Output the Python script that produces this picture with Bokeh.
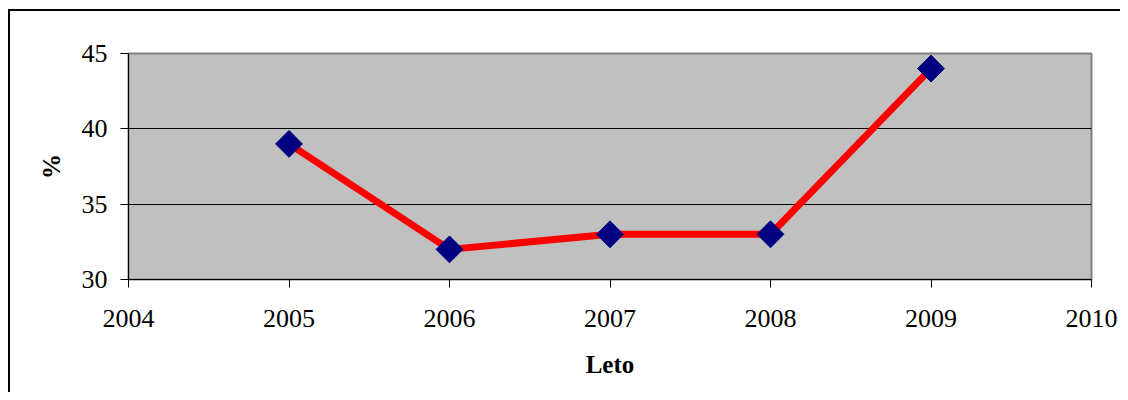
from bokeh.plotting import figure
from bokeh.embed import file_html
from bokeh.resources import INLINE
from bokeh.models import FixedTicker, Range1d
import math

years = [2005, 2006, 2007, 2008, 2009]
values = [39, 32, 33, 33, 44]
x_ticks = [2004, 2005, 2006, 2007, 2008, 2009, 2010]
y_ticks = [30, 35, 40, 45]

FONT = "Liberation Serif"

p = figure(width=1120, height=392, output_backend="svg", toolbar_location=None,
           x_range=Range1d(2004, 2010), y_range=Range1d(30, 45),
           min_border_left=128, min_border_top=53, min_border_right=29, min_border_bottom=113)

# outer chart-area border (top and left edges visible; right/bottom lie outside the view)
p.styles = {
    "background": "linear-gradient(#000,#000) 8px 9px / 2px 100% no-repeat, "
                  "linear-gradient(#000,#000) 8px 9px / 100% 2px no-repeat, #fff"
}

p.background_fill_color = "#C0C0C0"
p.border_fill_color = None
p.outline_line_color = "#808080"
p.outline_line_width = 2

p.xgrid.visible = False
p.ygrid.grid_line_color = "black"
p.ygrid.grid_line_width = 1

p.xaxis.ticker = FixedTicker(ticks=x_ticks)
p.yaxis.ticker = FixedTicker(ticks=y_ticks)
for ax in (p.xaxis, p.yaxis):
    ax.axis_line_color = "black"
    ax.major_tick_line_color = "black"
    ax.major_tick_out = 8
    ax.major_tick_in = 0
    ax.minor_tick_line_color = None
    ax.major_label_text_font = FONT
    ax.major_label_text_font_size = "26px"
    ax.major_label_text_color = "black"
    ax.axis_label_text_font = FONT
    ax.axis_label_text_font_size = "25px"
    ax.axis_label_text_font_style = "bold"
    ax.axis_label_text_color = "black"

p.xaxis.axis_label = "Leto"
p.yaxis.axis_label = "%"
p.xaxis.major_label_standoff = 22
p.yaxis.major_label_standoff = 13
p.xaxis.axis_label_standoff = 21
p.yaxis.axis_label_standoff = 14

p.line(years, values, line_color="red", line_width=7)
p.scatter(years, values, marker="square", size=19, angle=math.pi / 4,
          fill_color="#000080", line_color="#000080")

open("out.html", "w").write(file_html(p, INLINE))
